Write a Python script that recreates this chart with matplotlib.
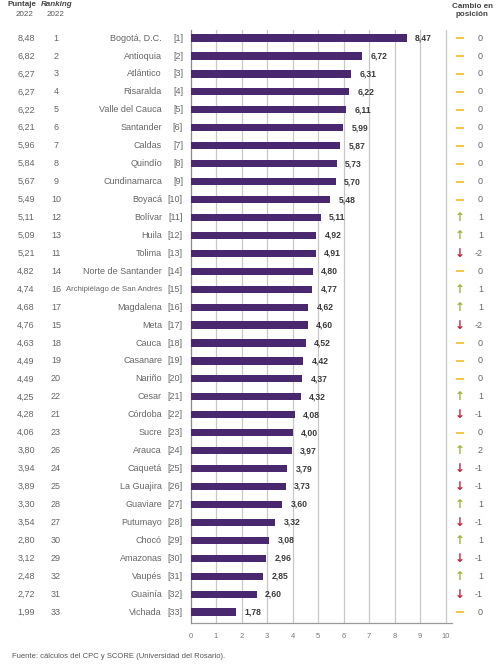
import matplotlib
matplotlib.use("Agg")
import matplotlib.pyplot as plt
import matplotlib.transforms as mtransforms

names = ["Bogotá, D.C.", "Antioquia", "Atlántico", "Risaralda", "Valle del Cauca",
         "Santander", "Caldas", "Quindío", "Cundinamarca", "Boyacá", "Bolívar",
         "Huila", "Tolima", "Norte de Santander", "Archipiélago de San Andrés",
         "Magdalena", "Meta", "Cauca", "Casanare", "Nariño", "Cesar", "Córdoba",
         "Sucre", "Arauca", "Caquetá", "La Guajira", "Guaviare", "Putumayo",
         "Chocó", "Amazonas", "Vaupés", "Guainía", "Vichada"]
puntaje_2022 = [8.48, 6.82, 6.27, 6.27, 6.22, 6.21, 5.96, 5.84, 5.67, 5.49, 5.11,
                5.09, 5.21, 4.82, 4.74, 4.68, 4.76, 4.63, 4.49, 4.49, 4.25, 4.28,
                4.06, 3.80, 3.94, 3.89, 3.30, 3.54, 2.80, 3.12, 2.48, 2.72, 1.99]
ranking_2022 = [1, 2, 3, 4, 5, 6, 7, 8, 9, 10, 12, 13, 11, 14, 16, 17, 15, 18, 19,
                20, 22, 21, 23, 26, 24, 25, 28, 27, 30, 29, 32, 31, 33]
puntaje_2023 = [8.47, 6.72, 6.31, 6.22, 6.11, 5.99, 5.87, 5.73, 5.70, 5.48, 5.11,
                4.92, 4.91, 4.80, 4.77, 4.62, 4.60, 4.52, 4.42, 4.37, 4.32, 4.08,
                4.00, 3.97, 3.79, 3.73, 3.60, 3.32, 3.08, 2.96, 2.85, 2.60, 1.78]
cambio = [0, 0, 0, 0, 0, 0, 0, 0, 0, 0, 1, 1, -2, 0, 1, 1, -2, 0, 0, 0, 1, -1,
          0, 2, -1, -1, 1, -1, 1, -1, 1, -1, 0]
x_ticks = list(range(0, 11))

FONT = ["Liberation Sans", "DejaVu Sans"]
plt.rcParams["font.family"] = FONT

W, H = 499, 665
fig = plt.figure(figsize=(W / 100, H / 100), dpi=100)
fig.patch.set_facecolor("white")

left_px, right_px, top_px, bottom_px = 190.5, 452, 30, 623
ax = fig.add_axes([left_px / W, 1 - bottom_px / H,
                   (right_px - left_px) / W, (bottom_px - top_px) / H])

n = len(names)
ypos = list(range(n))
ax.barh(ypos, puntaje_2023, height=0.4, color="#4a2870", zorder=3)
ax.set_xlim(0, 10.25)
ax.set_ylim(n - 1 + 0.61, -0.45)
ax.set_xticks(x_ticks)
ax.set_xticklabels([str(t) for t in x_ticks], fontsize=5.5, color="#777777")
ax.tick_params(axis="x", length=0, pad=7)
ax.set_yticks([])
for t in x_ticks[1:]:
    ax.axvline(t, color="#c8c8c8", lw=0.9, zorder=1)
for s in ["top", "right"]:
    ax.spines[s].set_visible(False)
ax.spines["left"].set_color("#8a8a8a")
ax.spines["bottom"].set_color("#9a9a9a")
ax.spines["left"].set_linewidth(0.9)
ax.spines["bottom"].set_linewidth(0.9)

def fmt(v):
    return f"{v:.2f}".replace(".", ",")

# value labels
for y, v in zip(ypos, puntaje_2023):
    ax.annotate(fmt(v), (v, y), xytext=(6, 0), textcoords="offset points",
                ha="left", va="center", fontsize=6.2, fontweight="bold",
                color="#3a3a3a", zorder=4)

# change column axes (shares the row scale)
ax2 = fig.add_axes([452 / W, 1 - bottom_px / H, (W - 452) / W,
                    (bottom_px - top_px) / H], sharey=ax)
ax2.set_xlim(452, W)
ax2.axis("off")

zero_rows = [y for y in ypos if cambio[y] == 0]
ax2.scatter([460] * len(zero_rows), zero_rows, marker="_", s=40,
            linewidths=1.3, color="#f0c232", zorder=3)

tr = mtransforms.blended_transform_factory(fig.transFigure, ax.transData)
gray = "#666666"
for y in ypos:
    fig.text(26 / W, y, fmt(puntaje_2022[y]), transform=tr, ha="center",
             va="center", fontsize=6.5, color=gray)
    fig.text(56 / W, y, str(ranking_2022[y]), transform=tr, ha="center",
             va="center", fontsize=6.5, color=gray)
    nm_size = 6.5 if len(names[y]) < 20 else 5.6
    fig.text(162 / W, y, names[y], transform=tr, ha="right",
             va="center", fontsize=nm_size, color=gray)
    fig.text(183 / W, y, f"[{y + 1}]", transform=tr, ha="right",
             va="center", fontsize=6.5, color=gray)
    c = cambio[y]
    if c > 0:
        ax2.text(460, y, "↑", ha="center", va="center",
                 fontsize=8.5, color="#9ab53a", family="DejaVu Sans",
                 fontweight="bold")
    elif c < 0:
        ax2.text(460, y, "↓", ha="center", va="center",
                 fontsize=8.5, color="#c2213a", family="DejaVu Sans",
                 fontweight="bold")
    ax2.text(483, y, str(c), ha="right", va="center",
             fontsize=6.5, color=gray)

# headers
fig.text(22 / W, 1 - 5 / H, "Puntaje", ha="center", va="center", fontsize=5.8,
         fontweight="bold", color="#444444")
fig.text(25 / W, 1 - 14 / H, "2022", ha="center", va="center", fontsize=5.8,
         color="#555555")
fig.text(57 / W, 1 - 5 / H, "Ranking", ha="center", va="center", fontsize=5.8,
         fontweight="bold", fontstyle="italic", color="#444444")
fig.text(56 / W, 1 - 14 / H, "2022", ha="center", va="center", fontsize=5.8,
         color="#555555")
fig.text(472 / W, 1 - 6 / H, "Cambio en", ha="center", va="center",
         fontsize=5.8, fontweight="bold", color="#444444")
fig.text(472 / W, 1 - 15 / H, "posición", ha="center", va="center",
         fontsize=5.8, fontweight="bold", color="#444444")

fig.text(12 / W, 1 - 657 / H,
         "Fuente: cálculos del CPC y SCORE (Universidad del Rosario).",
         ha="left", va="center", fontsize=5.5, color="#555555")

fig.savefig("out.png", dpi=100)
